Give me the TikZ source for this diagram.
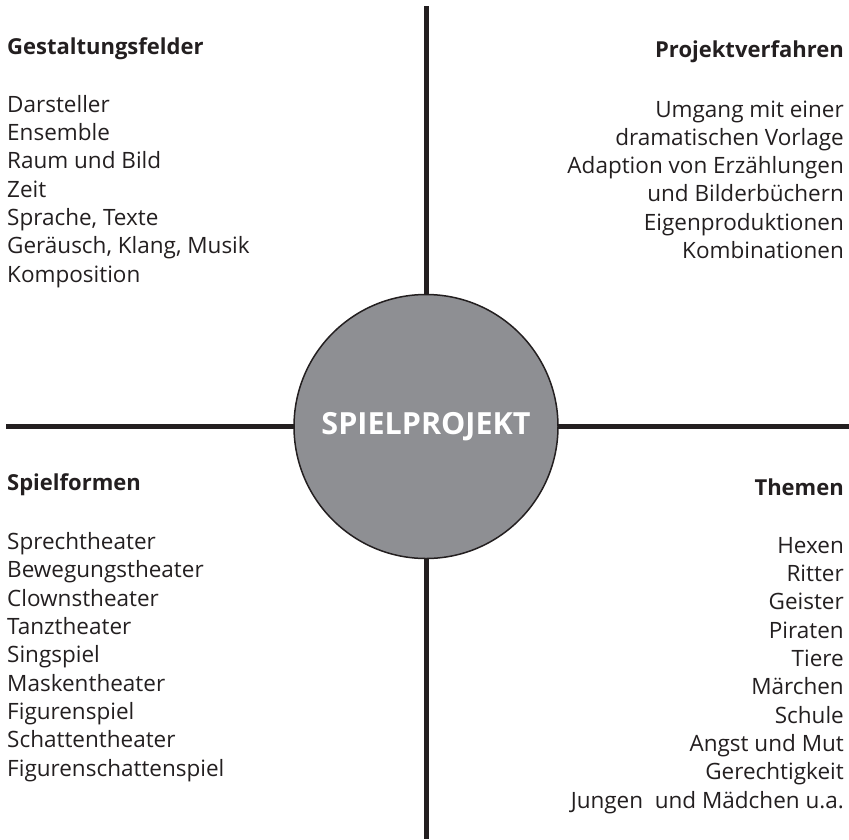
\documentclass[tikz,border=0pt]{standalone}
\usepackage{fontspec}
\setmainfont{Open Sans}
\definecolor{projektgray}{HTML}{8E8F93}
\definecolor{inkblack}{HTML}{231F20}
\usetikzlibrary{positioning}
\tikzset{
    fieldhead/.style={
        inner sep=0pt,
        text=inkblack,
        font=\fontsize{22}{28.3}\selectfont\bfseries
    },
    fieldlist/.style={
        inner sep=0pt,
        text=inkblack,
        font=\fontsize{22.5}{28.3}\selectfont
    },
    axisline/.style={
        draw=inkblack,
        line width=5pt
    },
    projektcircle/.style={
        circle,
        draw=inkblack,
        fill=projektgray,
        line width=1.5pt,
        minimum size=264pt,
        inner sep=0pt,
        text=white,
        font=\fontsize{30.5}{36}\selectfont\bfseries
    }
}

\begin{document}
\begin{tikzpicture}[x=1pt,y=-1pt]
    \useasboundingbox (0,0) rectangle (849,839);

    \coordinate (axistop) at (426,6);
    \coordinate (axisbottom) at (426,839);
    \coordinate (axisleft) at (6,426.5);
    \coordinate (axisright) at (849,426.5);
    \draw[axisline] (axistop) -- (axisbottom);
    \draw[axisline] (axisleft) -- (axisright);

    \node[projektcircle] (projekt) at (426,426.5) {SPIELPROJEKT};

    % lists sit on the baseline of their last line
    \node[fieldhead,anchor=base west] (gestaltung) at (7,54)
        {Gestaltungsfelder};
    \node[fieldlist,anchor=base west,align=left] (gestaltunglist) at (7,282)
        {Darsteller\\Ensemble\\Raum und Bild\\Zeit\\Sprache, Texte\\
         Geräusch, Klang, Musik\\Komposition};

    \node[fieldhead,anchor=base east] (verfahren) at (844,57)
        {Projektverfahren};
    \node[fieldlist,anchor=base east,align=right] (verfahrenlist) at (844,258.5)
        {Umgang mit einer\\dramatischen Vorlage\\Adaption von Erzählungen\\
         und Bilderbüchern\\Eigenproduktionen\\Kombinationen};

    \node[fieldhead,anchor=base west] (spielformen) at (7,490)
        {Spielformen};
    \node[fieldlist,anchor=base west,align=left] (spielformenlist) at (7,776)
        {Sprechtheater\\Bewegungstheater\\Clownstheater\\Tanztheater\\
         Singspiel\\Maskentheater\\Figurenspiel\\Schattentheater\\
         Figurenschattenspiel};

    \node[fieldhead,anchor=base east] (themen) at (844,495)
        {Themen};
    \node[fieldlist,anchor=base east,align=right] (themenlist) at (844,808)
        {Hexen\\Ritter\\Geister\\Piraten\\Tiere\\Märchen\\Schule\\
         Angst und Mut\\Gerechtigkeit\\Jungen~ und Mädchen u.a.};
\end{tikzpicture}
\end{document}
